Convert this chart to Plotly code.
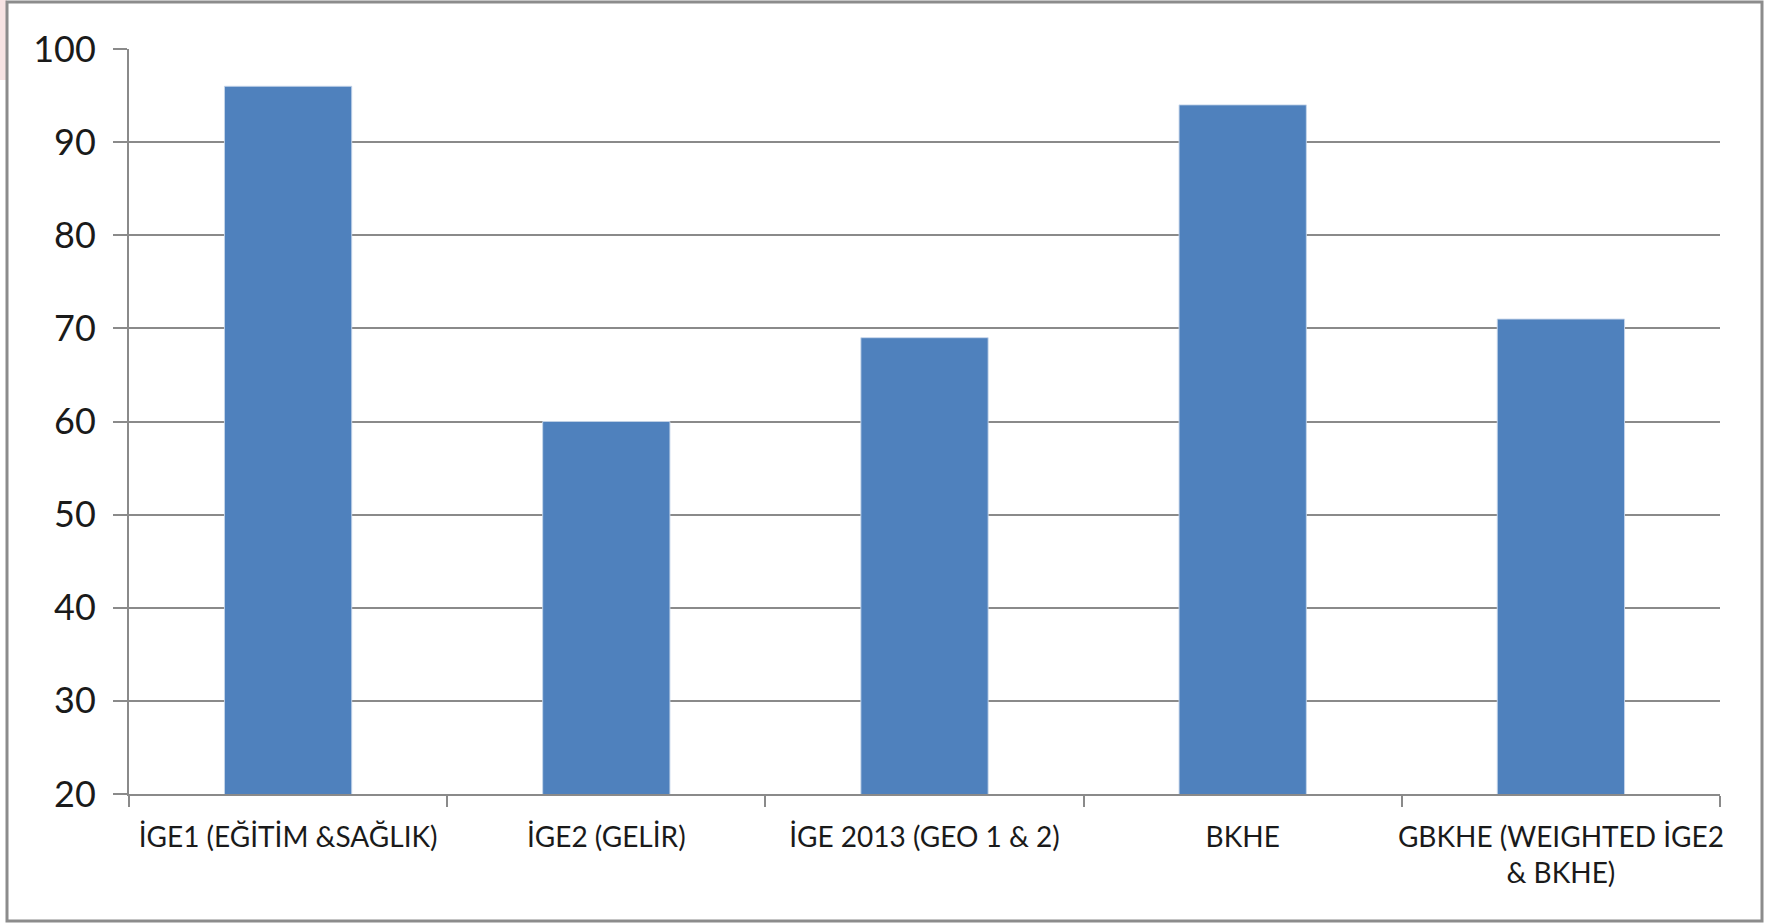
import plotly.graph_objects as go

categories = ["İGE1 (EĞİTİM &SAĞLIK)", "İGE2 (GELİR)", "İGE 2013 (GEO 1 & 2)", "BKHE",
              "GBKHE (WEIGHTED İGE2<br>& BKHE)"]
values = [96, 60, 69, 94, 71]
y_ticks = [20, 30, 40, 50, 60, 70, 80, 90, 100]

W, H = 1769, 923
ML, MR, MT, MB = 129, 49, 49, 129
pw, ph = W - ML - MR, H - MT - MB

def px_x(p):
    return (p - ML) / pw

def px_y(p):
    return (H - MB - p) / ph

font_fam = "Lato"

fig = go.Figure(go.Bar(
    x=categories, y=values,
    marker=dict(color="#4F81BD", line=dict(color="rgba(200,215,235,0.9)", width=1)),
    width=0.4,
))

fig.update_layout(
    width=W, height=H, autosize=False,
    margin=dict(l=ML, r=MR, t=MT, b=MB, autoexpand=False),
    paper_bgcolor="white", plot_bgcolor="white",
    showlegend=False,
    font=dict(family=font_fam, color="#1a1a1a"),
    bargap=0.6,
    shapes=[
        dict(type="rect", xref="paper", yref="paper",
             x0=px_x(0), x1=px_x(7), y0=px_y(80), y1=px_y(0),
             line=dict(width=0), fillcolor="rgba(240,200,200,0.5)", layer="below"),
        dict(type="rect", xref="paper", yref="paper",
             x0=px_x(7), x1=px_x(1762), y0=px_y(921), y1=px_y(2),
             line=dict(color="#8c8c8c", width=3), layer="below"),
    ],
)
fig.update_xaxes(
    type="category", showline=True, linecolor="#8a8a8a", linewidth=2,
    ticks="outside", tickson="boundaries", ticklen=11, tickcolor="#8a8a8a", tickwidth=2,
    tickfont=dict(size=28, family=font_fam), showgrid=False, ticklabelstandoff=17,
    tickangle=0, automargin=False,
)
fig.update_yaxes(
    range=[20, 100], tickvals=y_ticks, showline=True, linecolor="#8a8a8a", linewidth=2,
    ticks="outside", ticklen=14, tickcolor="#8a8a8a", tickwidth=2,
    showgrid=True, gridcolor="#8a8a8a", gridwidth=2,
    tickfont=dict(size=36, family=font_fam), zeroline=False, ticklabelstandoff=10,
    automargin=False,
)

fig.write_html("out.html", config={"displayModeBar": False})
with open("out.html", encoding="utf-8") as f:
    html = f.read()
html = html.replace("<body>", '<body style="margin:0;padding:0;overflow:hidden">', 1)
with open("out.html", "w", encoding="utf-8") as f:
    f.write(html)
